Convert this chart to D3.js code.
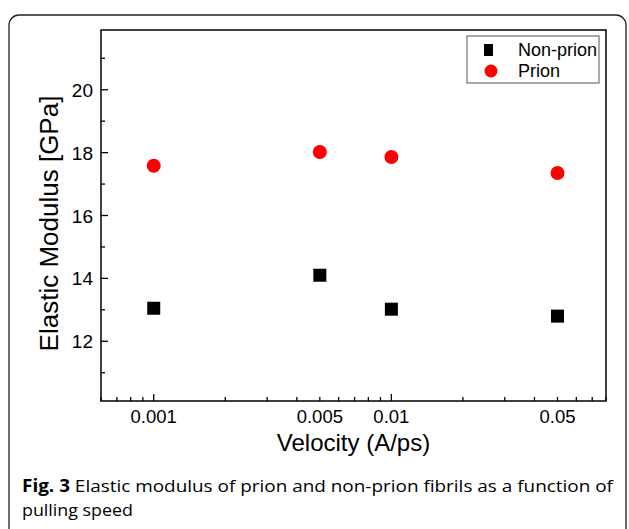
<!DOCTYPE html>
<html>
<head>
<meta charset="utf-8">
<script src="https://cdn.jsdelivr.net/npm/d3@7"></script>
<style>
  body { margin: 0; background: #fff; }
  svg { display: block; }
</style>
</head>
<body>
<div id="chart"></div>
<script>
const velocities = [0.001, 0.005, 0.01, 0.05];
const nonPrion = [13.05, 14.1, 13.02, 12.8];
const prion = [17.58, 18.02, 17.86, 17.35];
const xTickLabels = [0.001, 0.005, 0.01, 0.05];
const yTickLabels = [12, 14, 16, 18, 20];

const W = 629, H = 529;
const margin = { top: 30, right: 23, bottom: 128, left: 101 };
const width = W - margin.left - margin.right;
const height = H - margin.top - margin.bottom;

const svg = d3.select("#chart").append("svg")
  .attr("width", W).attr("height", H);

// outer figure frame
svg.append("rect")
  .attr("x", 9).attr("y", 15)
  .attr("width", 617).attr("height", 540)
  .attr("rx", 10)
  .attr("fill", "none")
  .attr("stroke", "#222")
  .attr("stroke-width", 1.3);

const g = svg.append("g").attr("transform", `translate(${margin.left},${margin.top})`);

const x = d3.scaleLog().domain([0.0006, 0.08]).range([0, width]);
const y = d3.scaleLinear().domain([10.1, 21.9]).range([height, 0]);

const font = "'Liberation Sans', Arial, sans-serif";

// minor ticks on x (2..9 per decade)
const minorX = [];
[0.0001, 0.001, 0.01].forEach(dec => {
  for (let k = 1; k <= 9; k++) {
    const v = dec * k;
    if (v >= 0.0006 && v <= 0.08) minorX.push(v);
  }
});
g.selectAll(".xtick").data(minorX).enter().append("line")
  .attr("x1", d => x(d)).attr("x2", d => x(d))
  .attr("y1", height)
  .attr("y2", d => (Math.abs(Math.log10(d) - Math.round(Math.log10(d))) < 1e-9) ? height - 7 : height - 4)
  .attr("stroke", "#000").attr("stroke-width", 1.3);

g.selectAll(".xlab").data(xTickLabels).enter().append("text")
  .attr("x", d => x(d)).attr("y", height + 22)
  .attr("text-anchor", "middle")
  .style("font-family", font).style("font-size", "18.5px")
  .text(d => d);

// y ticks
const yTicks = d3.range(11, 22, 1);
g.selectAll(".ytick").data(yTicks).enter().append("line")
  .attr("x1", 0).attr("x2", d => d % 2 === 0 ? 7 : 4)
  .attr("y1", d => y(d)).attr("y2", d => y(d))
  .attr("stroke", "#000").attr("stroke-width", 1.3);

g.selectAll(".ylab").data(yTickLabels).enter().append("text")
  .attr("x", -8).attr("y", d => y(d) + 7)
  .attr("text-anchor", "end")
  .style("font-family", font).style("font-size", "19px")
  .text(d => d);

// plot frame
g.append("rect")
  .attr("width", width).attr("height", height)
  .attr("fill", "none").attr("stroke", "#000").attr("stroke-width", 1.5);

// axis titles
g.append("text")
  .attr("x", width / 2).attr("y", height + 50)
  .attr("text-anchor", "middle")
  .style("font-family", font).style("font-size", "24px")
  .text("Velocity (A/ps)");

g.append("text")
  .attr("transform", `translate(-43,${height / 2 + 8}) rotate(-90)`)
  .attr("text-anchor", "middle")
  .style("font-family", font).style("font-size", "26px")
  .text("Elastic Modulus [GPa]");

// points
const sq = 13;
g.selectAll(".np").data(velocities).enter().append("rect")
  .attr("x", (d) => x(d) - sq / 2)
  .attr("y", (d, i) => y(nonPrion[i]) - sq / 2)
  .attr("width", sq).attr("height", sq)
  .attr("fill", "#000");

g.selectAll(".pr").data(velocities).enter().append("circle")
  .attr("cx", d => x(d))
  .attr("cy", (d, i) => y(prion[i]))
  .attr("r", 7)
  .attr("fill", "#ff0000");

// legend
const lg = svg.append("g").attr("transform", "translate(467,36)");
lg.append("rect").attr("width", 132).attr("height", 47)
  .attr("fill", "#fff").attr("stroke", "#555").attr("stroke-width", 1);
lg.append("rect").attr("x", 17).attr("y", 8).attr("width", 9).attr("height", 12).attr("fill", "#000");
lg.append("circle").attr("cx", 24).attr("cy", 35).attr("r", 6.5).attr("fill", "#ff0000");
lg.append("text").attr("x", 51).attr("y", 20)
  .style("font-family", font).style("font-size", "18px").text("Non-prion");
lg.append("text").attr("x", 51).attr("y", 41)
  .style("font-family", font).style("font-size", "18px").text("Prion");

// caption
const cap = svg.append("text")
  .attr("x", 22).attr("y", 492)
  .style("font-family", "'Open Sans', sans-serif").style("font-size", "17px")
  .attr("textLength", 591).attr("lengthAdjust", "spacingAndGlyphs");
cap.append("tspan").style("font-weight", "bold").text("Fig. 3");
cap.append("tspan").text(" Elastic modulus of prion and non-prion fibrils as a function of");
svg.append("text")
  .attr("x", 22).attr("y", 516)
  .style("font-family", "'Open Sans', sans-serif").style("font-size", "17px")
  .attr("textLength", 111).attr("lengthAdjust", "spacingAndGlyphs")
  .text("pulling speed");
</script>
</body>
</html>
